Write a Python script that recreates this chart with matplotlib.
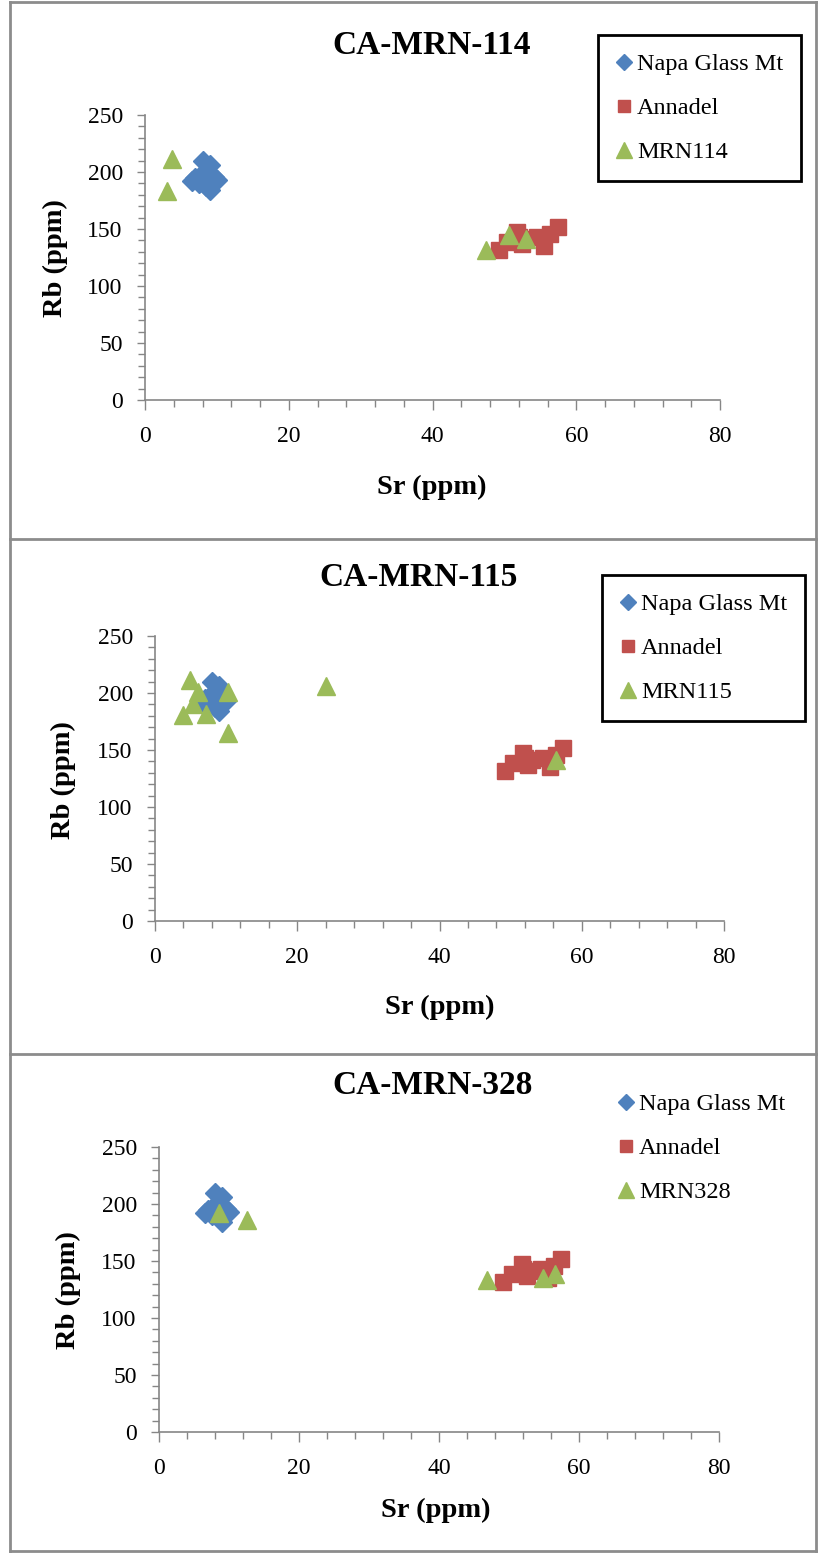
import matplotlib
matplotlib.use("Agg")
import matplotlib.pyplot as plt
from matplotlib.lines import Line2D
from matplotlib.ticker import MultipleLocator

plt.rcParams['font.family'] = ['Liberation Serif', 'DejaVu Serif']

# source reference groups (same in every panel)
napa_sr = [8.0, 9.0, 9.6, 9.0, 7.0, 7.5, 8.5, 8.2, 10.0, 6.5]
napa_rb = [210, 206, 196, 184, 195, 190, 188, 200, 193, 192]
annadel_sr = [49.2, 50.4, 51.8, 52.5, 53.0, 54.5, 55.5, 56.4, 57.4, 52.0]
annadel_rb = [132, 139, 147, 137, 141, 143, 135, 146, 152, 143]

# site samples
titles = ["CA-MRN-114", "CA-MRN-115", "CA-MRN-328"]
sample_names = ["MRN114", "MRN115", "MRN328"]
mrn114_sr = [3.8, 3.0, 47.4, 50.6, 53.0]
mrn114_rb = [211, 183, 132, 145, 141]
mrn115_sr = [4.9, 3.9, 5.3, 6.0, 7.2, 10.3, 10.3, 24.1, 56.4]
mrn115_rb = [211, 181, 190, 201, 182, 201, 165, 206, 141]
mrn328_sr = [8.6, 12.6, 46.9, 54.9, 56.6]
mrn328_rb = [192, 186, 133, 135, 139]
samples = [(mrn114_sr, mrn114_rb), (mrn115_sr, mrn115_rb), (mrn328_sr, mrn328_rb)]

blue = '#4F81BD'
red = '#C0504D'
green = '#9BBB59'
gray = '#868686'

W, H = 818, 1557
fig = plt.figure(figsize=(W / 100, H / 100), dpi=100)

def fx(px):
    return px / W

def fy(py):
    return 1 - py / H

# pixel boxes of the plot areas: left, right, top(250), bottom(0)
boxes = [(145, 720, 115, 400), (155, 724, 636, 921), (159, 719, 1147, 1432)]
title_pos = [(432, 45), (419, 578), (433, 1085)]
xlabel_pos = [(432, 487), (440, 1007), (436, 1510)]
ylabel_pos = [(55, 258), (63, 780), (68, 1290)]
legend_pos = [(598, 35), (602, 575), (600, 1075)]

for i in range(3):
    l, r, t, b = boxes[i]
    ax = fig.add_axes([fx(l), fy(b), fx(r) - fx(l), fy(t) - fy(b)])
    ax.plot(napa_sr, napa_rb, 'D', ms=10, color=blue, mec=blue, label='Napa Glass Mt', clip_on=False)
    ax.plot(annadel_sr, annadel_rb, 's', ms=11, color=red, mec=red, label='Annadel', clip_on=False)
    ax.plot(samples[i][0], samples[i][1], '^', ms=13, color=green, mec=green,
            label=sample_names[i], clip_on=False)

    ax.set_xlim(0, 80)
    ax.set_ylim(0, 250)
    ax.xaxis.set_major_locator(MultipleLocator(20))
    ax.xaxis.set_minor_locator(MultipleLocator(4))
    ax.yaxis.set_major_locator(MultipleLocator(50))
    ax.yaxis.set_minor_locator(MultipleLocator(10))
    for s in ['top', 'right']:
        ax.spines[s].set_visible(False)
    for s in ['left', 'bottom']:
        ax.spines[s].set_color(gray)
        ax.spines[s].set_linewidth(1.2)
    ax.tick_params(axis='x', which='major', length=7, color=gray, width=1, labelsize=17, pad=12)
    ax.tick_params(axis='x', which='minor', length=5, color=gray, width=1)
    ax.tick_params(axis='y', which='major', length=6, color=gray, width=1, labelsize=17, pad=10)
    ax.tick_params(axis='y', which='minor', length=5, color=gray, width=1)

    tx, ty = title_pos[i]
    fig.text(fx(tx), fy(ty), titles[i], ha='center', va='center', fontsize=24, fontweight='bold')
    sx, sy = xlabel_pos[i]
    fig.text(fx(sx), fy(sy), 'Sr (ppm)', ha='center', va='center', fontsize=20.5, fontweight='bold')
    rx, ry = ylabel_pos[i]
    fig.text(fx(rx), fy(ry), 'Rb (ppm)', ha='center', va='center', fontsize=20.5,
             fontweight='bold', rotation=90)

    lx, ly = legend_pos[i]
    leg = ax.legend(loc='upper left', bbox_to_anchor=(fx(lx), fy(ly)), bbox_transform=fig.transFigure,
                    fontsize=17.5, frameon=(i < 2), fancybox=False, edgecolor='black',
                    handlelength=0.6, handletextpad=0.25, labelspacing=0.9, borderpad=0.75,
                    borderaxespad=0, markerscale=0.85)
    if i < 2:
        leg.get_frame().set_linewidth(2)
        leg.get_frame().set_alpha(1)

# panel frames
border = dict(color='#8c8c8c', lw=2, transform=fig.transFigure)
fig.add_artist(Line2D([fx(10), fx(10)], [fy(2), fy(1551)], **border))
fig.add_artist(Line2D([fx(816), fx(816)], [fy(2), fy(1551)], **border))
for yy in [2, 539, 1054, 1551]:
    fig.add_artist(Line2D([fx(10), fx(816)], [fy(yy), fy(yy)], **border))

fig.savefig('out.png', dpi=100)
